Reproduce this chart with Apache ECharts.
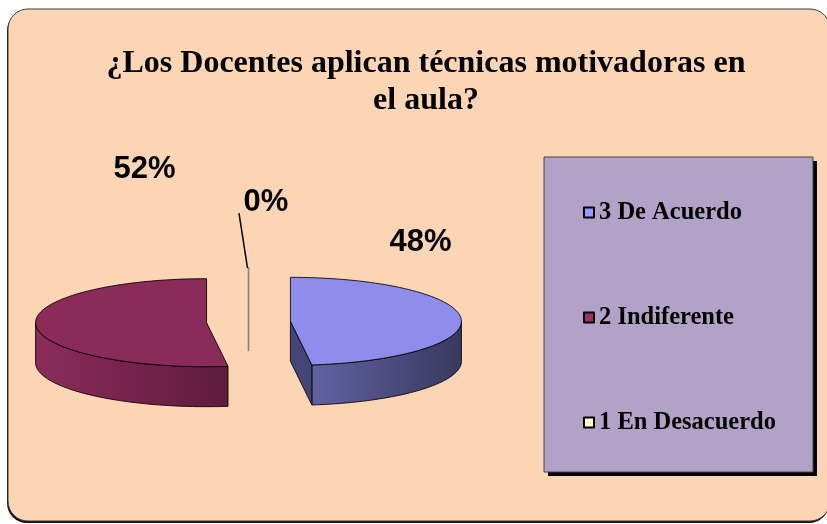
<!DOCTYPE html>
<html>
<head>
<meta charset="utf-8">
<script src="https://cdn.jsdelivr.net/npm/echarts@6/dist/echarts.min.js"></script>
<style>
html,body{margin:0;padding:0;background:#fff;}
#chart{width:827px;height:524px;}
</style>
</head>
<body>
<div id="chart"></div>
<script>
// ---- data ----
const categories = ['3 De Acuerdo', '2 Indiferente', '1 En Desacuerdo'];
const values = [48, 52, 0];
const titleText = '¿Los Docentes aplican técnicas motivadoras en\nel aula?';

// ---- styles / layout ----
const legendColors = ['#9999FF', '#993366', '#FFFFCC'];
const topColors = ['#8E8DEC', '#8B2B59', '#FFFFCC'];
const wallColors = [['#6262A2', '#383860'], ['#8C2C5A', '#5E1B3B'], ['#DDDDAA', '#AAAA88']];
const faceColors = ['#45457A', '#6A2046', '#8C7F7A'];
const labelOffsets = [[130, -79], [-62, -153], [17.5, -109]];
const CX = 248.5, CY = 322, RX = 171, RY = 44, DEPTH = 40, EXPLODE = 42;

const total = values.reduce((a, b) => a + b, 0);

function pt(c, th, z) {
  const r = th * Math.PI / 180;
  return [c[0] + RX * Math.sin(r), c[1] - RY * Math.cos(r) + z];
}
function arc(c, a, b, z) {
  const n = Math.max(2, Math.ceil(Math.abs(b - a) / 2));
  const pts = [];
  for (let k = 0; k <= n; k++) pts.push(pt(c, a + (b - a) * k / n, z));
  return pts;
}

function renderItem(params, api) {
  const i = params.dataIndex;
  let start = 0;
  for (let j = 0; j < i; j++) start += values[j] / total * 360;
  const sweep = api.value(0) / total * 360;
  const end = start + sweep;
  const mid = start + sweep / 2;
  const mr = mid * Math.PI / 180;
  const c = [CX + EXPLODE * Math.sin(mr), CY - EXPLODE * (RY / RX) * Math.cos(mr)];
  const children = [];
  const edge = { stroke: 'rgba(0,0,0,0.85)', lineWidth: 1, lineJoin: 'round' };

  if (sweep > 0) {
    // outer wall (front part only)
    const a = Math.max(start, 90), b = Math.min(end, 270);
    if (b > a) {
      const pts = arc(c, a, b, 0).concat(arc(c, b, a, DEPTH));
      children.push({
        type: 'polygon', shape: { points: pts },
        style: Object.assign({
          fill: new echarts.graphic.LinearGradient(0, 0, 1, 0, [
            { offset: 0, color: wallColors[i][0] }, { offset: 1, color: wallColors[i][1] }
          ])
        }, edge)
      });
    }
    // radial faces
    const faces = [];
    if (Math.cos((start - 270) * Math.PI / 180) > 0.001) faces.push(start);
    if (Math.cos((end + 90 - 180) * Math.PI / 180) > 0.001) faces.push(end);
    faces.forEach(th => {
      const p0 = pt(c, th, 0), p1 = pt(c, th, DEPTH);
      children.push({
        type: 'polygon',
        shape: { points: [c, p0, p1, [c[0], c[1] + DEPTH]] },
        style: Object.assign({ fill: faceColors[i] }, edge)
      });
    });
    // top face
    children.push({
      type: 'polygon',
      shape: { points: [c].concat(arc(c, start, end, 0)) },
      style: Object.assign({ fill: topColors[i] }, edge)
    });
  } else {
    // zero-size slice: seen edge-on as a thin line
    const p0 = pt(c, start, 0);
    children.push({
      type: 'polyline',
      shape: { points: [p0, [p0[0], c[1] + DEPTH]] },
      style: { stroke: faceColors[i], lineWidth: 1.6, fill: null }
    });
  }

  // data label
  const pct = Math.round(api.value(0) / total * 100) + '%';
  const lx = c[0] + labelOffsets[i][0], ly = c[1] + labelOffsets[i][1];
  children.push({
    type: 'text', x: lx, y: ly,
    style: {
      text: pct, fill: '#000', align: 'center', verticalAlign: 'middle',
      font: 'bold 31px "Liberation Sans", Arial, sans-serif'
    }
  });
  if (sweep === 0) {
    const p0 = pt(c, start, 0);
    children.push({
      type: 'line',
      shape: { x1: lx - 27, y1: ly + 11, x2: p0[0] - 1, y2: p0[1] + 1 },
      style: { stroke: '#000', lineWidth: 1.5 }
    });
  }
  return { type: 'group', children: children };
}

const chart = echarts.init(document.getElementById('chart'), null, { renderer: 'canvas' });
chart.setOption({
  animation: false,
  title: {
    text: titleText,
    left: 421, top: 40, textAlign: 'center',
    textStyle: {
      fontFamily: '"Liberation Serif", "Times New Roman", serif',
      fontWeight: 'bold', fontSize: 32, lineHeight: 37, color: '#000'
    }
  },
  graphic: [
    {
      type: 'rect', z: -11, silent: true,
      shape: { x: 7, y: 11, width: 822, height: 512, r: 20 },
      style: { fill: '#111' }
    },
    {
      type: 'rect', z: -10, silent: true,
      shape: { x: 8, y: 9, width: 822, height: 512, r: 20 },
      style: { fill: '#FCD5B4', stroke: '#3a3a3a', lineWidth: 1 }
    },
    {
      type: 'rect', z: -6, silent: true,
      shape: { x: 548, y: 161, width: 269, height: 315 },
      style: { fill: '#000' }
    },
    {
      type: 'rect', z: -5, silent: true,
      shape: { x: 544, y: 157, width: 269, height: 315 },
      style: { fill: '#B3A2C7', stroke: '#444', lineWidth: 1 }
    }
  ],
  legend: {
    orient: 'vertical', left: 583, top: 200, padding: 0,
    itemGap: 80, itemWidth: 10, itemHeight: 10, icon: 'rect',
    data: categories,
    itemStyle: { borderColor: '#000', borderWidth: 2 },
    textStyle: {
      fontFamily: '"Liberation Serif", "Times New Roman", serif',
      fontWeight: 'bold', fontSize: 24.5, color: '#000'
    }
  },
  color: legendColors,
  series: [
    {
      type: 'custom', name: 'pie3d', coordinateSystem: 'none',
      renderItem: renderItem,
      data: values.map((v, i) => ({ value: [v], name: categories[i] })),
      silent: true
    },
    {
      type: 'pie', name: 'legendSource', radius: [0, 0], center: [-200, -200],
      silent: true, label: { show: false }, labelLine: { show: false },
      data: values.map((v, i) => ({ value: v, name: categories[i] }))
    }
  ]
});
</script>
</body>
</html>
